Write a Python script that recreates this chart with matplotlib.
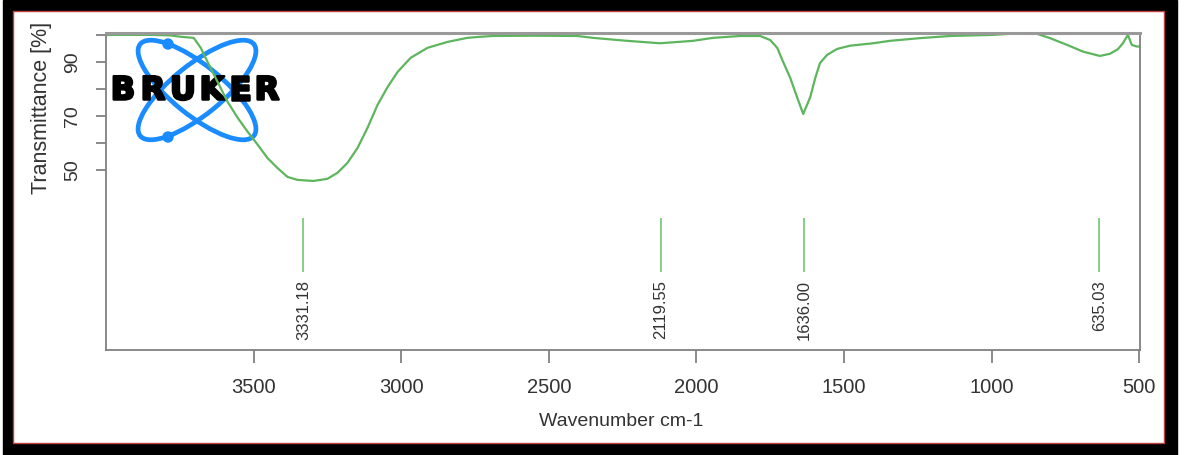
import matplotlib.pyplot as plt
import matplotlib.patheffects as pe
from matplotlib.patches import Rectangle, Ellipse, Circle

# FT-IR spectrum, values
wavenumber = [4000, 3850, 3780, 3747, 3703, 3679, 3656, 3622, 3588, 3554,
              3520, 3486, 3453, 3419, 3385, 3351, 3297, 3250, 3216, 3182,
              3148, 3114, 3080, 3046, 3012, 2968, 2911, 2843, 2776, 2732,
              2688, 2550, 2404, 2350, 2235, 2123, 2011, 1944, 1851, 1784,
              1750, 1726, 1706, 1682, 1659, 1638, 1614, 1597, 1581, 1557,
              1523, 1479, 1401, 1344, 1242, 1140, 995, 914, 846, 802,
              744, 690, 633, 599, 572, 555, 538, 525, 508, 498]
transmittance = [100.0, 100.0, 99.8, 99.3, 98.9, 95.2, 90.0, 82.6, 75.2, 69.3,
                 64.1, 59.3, 54.4, 50.7, 47.4, 46.3, 45.9, 46.7, 48.9, 52.6,
                 58.1, 65.6, 74.1, 80.7, 86.3, 91.5, 95.2, 97.4, 98.9, 99.3,
                 99.6, 99.7, 99.6, 98.9, 97.8, 96.9, 97.8, 98.9, 99.6, 99.6,
                 98.1, 95.2, 90.0, 84.1, 77.0, 70.7, 77.0, 84.1, 89.6, 92.6,
                 94.8, 96.0, 96.9, 97.8, 98.8, 99.6, 100.0, 100.6, 100.4, 98.8,
                 96.3, 93.8, 92.2, 93.0, 94.7, 96.9, 100.0, 96.3, 95.7, 95.7]

# picked peaks
peak_pos = [3331.18, 2119.55, 1636.00, 635.03]
peak_labels = ['3331.18', '2119.55', '1636.00', '635.03']

yticks = [50, 60, 70, 80, 90, 100]
ytick_labels = ['50', '', '70', '', '90', '']
xticks = [3500, 3000, 2500, 2000, 1500, 1000, 500]

W, H = 1185, 455
regular = ['Liberation Sans', 'DejaVu Sans']
txt = '#333333'
green = '#5db55d'

fig = plt.figure(figsize=(W / 100, H / 100), dpi=100)

# background: black picture frame with thin red inner line, and the logo
bg = fig.add_axes([0, 0, 1, 1], zorder=0)
bg.set_xlim(0, W)
bg.set_ylim(H, 0)
bg.axis('off')
bg.add_patch(Rectangle((3, 0), 1174, 455, color='black'))
bg.add_patch(Rectangle((13, 11), 1151, 432, facecolor='white',
                       edgecolor='#c04040', lw=1))

blue = '#1a8cff'
bg.add_patch(Ellipse((197, 90), 146, 50, angle=38.9, fill=False,
                     edgecolor=blue, lw=3.4))
bg.add_patch(Ellipse((197, 90), 146, 50, angle=-38.9, fill=False,
                     edgecolor=blue, lw=3.4))
bg.add_patch(Circle((168, 44), 5, color=blue))
bg.add_patch(Circle((168, 137), 5, color=blue))
for ch, cx in zip('BRUKER', [123, 153, 183, 212, 240, 267]):
    bg.text(cx, 91, ch, ha='center', va='center', fontsize=23,
            fontweight='bold', family='DejaVu Sans', color='black',
            path_effects=[pe.withStroke(linewidth=1.8, foreground='black')])

# spectrum
ax = fig.add_axes([106 / W, 1 - 350 / H, 1034 / W, 317 / H], zorder=1)
ax.patch.set_alpha(0)
ax.plot(wavenumber, transmittance, color=green, lw=1.6,
        solid_joinstyle='round')
ax.vlines(peak_pos, 12.2, 32.2, color='#7ccb7c', lw=1.3)
for p, lab in zip(peak_pos, peak_labels):
    ax.text(p, 9.3, lab, rotation=90, ha='center', va='top',
            fontsize=12, family=regular, color=txt)

ax.set_xlim(4000, 497)
ax.set_ylim(-16.7, 100.7)
ax.set_xticks(xticks)
ax.set_xticklabels([str(t) for t in xticks], family=regular, fontsize=14.5,
                   color=txt)
ax.set_yticks(yticks)
ax.set_yticklabels(ytick_labels, family=regular, fontsize=14, color=txt,
                   rotation=90, va='center')
ax.tick_params(axis='x', length=9, width=1.2, color='#777777', pad=11)
ax.tick_params(axis='y', length=7, width=1.2, color='#777777', pad=11)
for s in ax.spines.values():
    s.set_color('#808080')
    s.set_linewidth(1.3)
ax.spines['top'].set_linewidth(2.2)
ax.spines['top'].set_color('#999999')

ax.set_xlabel('Wavenumber cm-1', family=regular, fontsize=14, color=txt)
ax.xaxis.set_label_coords(0.498, -0.2)
ax.set_ylabel('Transmittance [%]', family=regular, fontsize=15.5, color=txt)
ax.yaxis.set_label_coords(-0.052, 0.765)

plt.savefig('out.png', dpi=100)
